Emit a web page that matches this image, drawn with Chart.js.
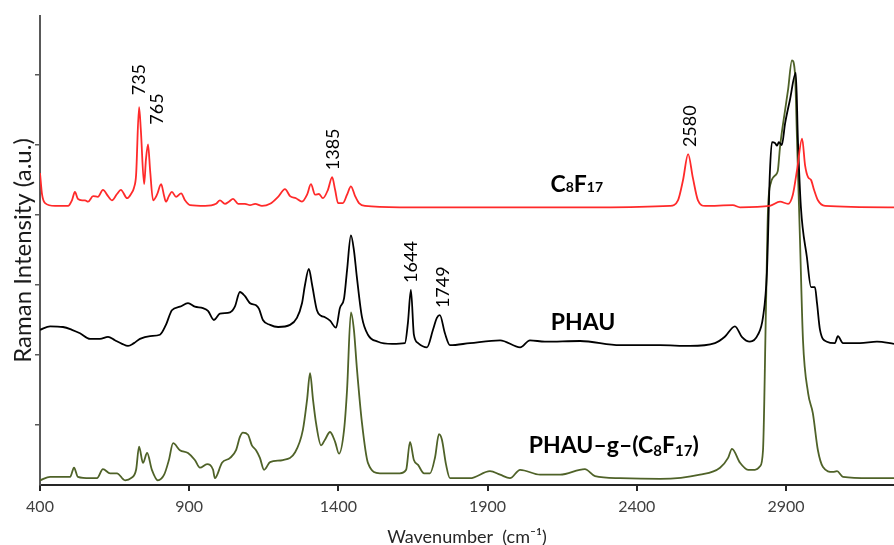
<!DOCTYPE html>
<html>
<head>
<meta charset="utf-8">
<script src="https://cdn.jsdelivr.net/npm/chart.js@4.4.1/dist/chart.umd.min.js"></script>
<style>
  body { margin: 0; background: #fff; }
  #wrap { width: 894px; height: 545px; }
</style>
</head>
<body>
<div id="wrap"><canvas id="raman" width="894" height="545"></canvas></div>
<script>
// axis ticks
const xTicks = [400, 900, 1400, 1900, 2400, 2900];
const yTicks = [1, 2, 3, 4, 5, 6];

// C8F17 spectrum (offset, a.u.)
const c8f17Wn = [400,407,417,450,494,507,517,527,541,551,561,578,594,611,628,641,658,671,692,705,715,722,732,738,749,755,762,769,779,792,806,816,822,832,842,856,873,886,903,953,990,1003,1020,1033,1047,1064,1087,1104,1121,1144,1171,1198,1221,1238,1258,1278,1295,1308,1322,1335,1348,1365,1379,1389,1399,1415,1429,1442,1456,1469,1489,1606,1942,2277,2511,2538,2555,2572,2588,2605,2629,2722,2746,2846,2880,2907,2923,2937,2954,2964,2974,2984,2994,3007,3031,3262];
const c8f17Int = [4.60,4.29,4.17,4.13,4.13,4.21,4.33,4.23,4.21,4.21,4.19,4.27,4.26,4.36,4.27,4.21,4.30,4.36,4.24,4.30,4.39,4.57,5.54,5.21,4.44,4.79,5.01,4.64,4.21,4.29,4.44,4.27,4.19,4.27,4.33,4.26,4.31,4.21,4.14,4.13,4.16,4.21,4.16,4.19,4.23,4.16,4.16,4.14,4.16,4.13,4.16,4.26,4.37,4.27,4.24,4.19,4.29,4.44,4.29,4.30,4.24,4.36,4.54,4.36,4.17,4.17,4.29,4.41,4.27,4.17,4.13,4.11,4.11,4.11,4.13,4.21,4.50,4.87,4.53,4.21,4.13,4.14,4.11,4.13,4.19,4.16,4.29,4.64,5.09,4.71,4.54,4.50,4.36,4.21,4.13,4.11];

// PHAU spectrum
const phauWn = [400,434,477,507,534,568,601,628,651,675,695,715,735,769,802,822,842,869,896,919,946,963,983,1003,1037,1053,1070,1087,1104,1124,1134,1147,1171,1198,1238,1261,1278,1288,1301,1312,1328,1342,1355,1372,1392,1405,1419,1429,1442,1452,1462,1479,1499,1533,1580,1623,1633,1643,1653,1667,1697,1717,1730,1740,1757,1774,1841,1942,2009,2042,2092,2210,2344,2478,2578,2662,2695,2729,2752,2779,2806,2823,2836,2846,2853,2863,2870,2876,2886,2897,2913,2933,2940,2950,2970,2984,2997,3004,3014,3037,3064,3074,3091,3148,3205,3262];
const phauInt = [2.36,2.41,2.40,2.36,2.31,2.23,2.23,2.26,2.21,2.16,2.13,2.17,2.23,2.27,2.29,2.43,2.64,2.69,2.74,2.69,2.67,2.63,2.50,2.59,2.61,2.69,2.90,2.84,2.74,2.71,2.66,2.50,2.43,2.40,2.43,2.53,2.74,3.00,3.23,3.00,2.64,2.56,2.54,2.49,2.39,2.67,2.81,3.21,3.71,3.50,3.11,2.54,2.29,2.19,2.16,2.17,2.46,2.93,2.29,2.17,2.11,2.36,2.53,2.57,2.31,2.14,2.17,2.21,2.11,2.21,2.19,2.20,2.14,2.14,2.13,2.17,2.26,2.41,2.26,2.19,2.29,2.54,3.17,4.60,5.04,5.03,4.99,5.04,5.00,5.31,5.64,6.03,5.07,4.11,3.40,2.97,2.97,2.74,2.36,2.19,2.17,2.27,2.17,2.17,2.19,2.16];

// PHAU-g-(C8F17) spectrum
const graftWn = [400,434,477,501,514,527,568,591,611,635,658,685,705,722,732,745,759,775,795,816,832,846,869,896,919,936,960,980,986,1010,1037,1057,1070,1080,1097,1110,1124,1137,1151,1171,1214,1255,1281,1295,1305,1315,1325,1342,1355,1372,1389,1402,1419,1429,1442,1452,1462,1479,1499,1539,1606,1627,1640,1653,1667,1687,1707,1724,1737,1747,1761,1774,1841,1908,1942,1975,2009,2076,2143,2226,2260,2344,2478,2612,2679,2706,2719,2746,2773,2796,2813,2823,2833,2840,2850,2856,2870,2873,2880,2897,2907,2920,2930,2937,2947,2957,2974,2990,3007,3024,3057,3071,3091,3181,3262];
const graftInt = [0.21,0.26,0.26,0.26,0.39,0.26,0.24,0.24,0.37,0.31,0.31,0.21,0.24,0.36,0.69,0.46,0.60,0.36,0.21,0.29,0.50,0.74,0.64,0.60,0.50,0.39,0.44,0.36,0.24,0.46,0.53,0.64,0.83,0.89,0.86,0.71,0.64,0.53,0.36,0.47,0.50,0.61,0.93,1.36,1.74,1.36,1.03,0.71,0.79,0.90,0.76,0.59,0.93,1.50,2.61,2.36,1.81,1.03,0.46,0.31,0.31,0.36,0.76,0.50,0.43,0.31,0.31,0.54,0.87,0.79,0.43,0.24,0.24,0.34,0.29,0.24,0.36,0.29,0.29,0.37,0.27,0.24,0.23,0.29,0.39,0.53,0.66,0.46,0.36,0.36,0.41,0.64,2.69,4.11,4.47,4.53,4.60,4.64,4.97,5.50,5.79,6.21,6.03,5.07,3.64,2.21,1.46,1.17,0.64,0.40,0.33,0.34,0.26,0.24,0.24];

// peak labels: text, wavenumber, intensity where the text starts
const peakText = ['735', '765', '1385', '1644', '1749', '2580'];
const peakWn = [732, 792, 1382, 1643, 1750, 2578];
const peakInt = [5.71, 5.29, 4.64, 3.03, 2.67, 4.97];

function toPoints(xs, ys) {
    return xs.map((x, i) => ({ x: x, y: ys[i] }));
}

const FONT = 'Lato, "Open Sans", sans-serif';

// draws text made of parts with different sizes, centred on cx
function drawParts(ctx, parts, cx, baseY) {
    let total = 0;
    parts.forEach(p => {
        ctx.font = 'bold ' + p.size + 'px ' + FONT;
        p.w = ctx.measureText(p.t).width;
        total += p.w;
    });
    let x = cx - total / 2;
    ctx.textAlign = 'left';
    ctx.textBaseline = 'alphabetic';
    parts.forEach(p => {
        ctx.font = 'bold ' + p.size + 'px ' + FONT;
        ctx.fillText(p.t, x, baseY + (p.dy || 0));
        x += p.w;
    });
}

const labelPlugin = {
    id: 'labels',
    afterDatasetsDraw(chart) {
        const ctx = chart.ctx;
        const xs = chart.scales.x;
        const ys = chart.scales.y;
        ctx.save();
        ctx.fillStyle = '#000';

        // rotated peak positions
        ctx.font = '18px ' + FONT;
        peakText.forEach((t, i) => {
            ctx.save();
            ctx.translate(xs.getPixelForValue(peakWn[i]), ys.getPixelForValue(peakInt[i]));
            ctx.rotate(-Math.PI / 2);
            ctx.textAlign = 'left';
            ctx.textBaseline = 'middle';
            ctx.fillText(t, 0, 0);
            ctx.restore();
        });

        // series names
        drawParts(ctx, [
            { t: 'C', size: 23 }, { t: '8', size: 14 },
            { t: 'F', size: 23 }, { t: '17', size: 14 }
        ], xs.getPixelForValue(2199), ys.getPixelForValue(4.33));

        drawParts(ctx, [{ t: 'PHAU', size: 23 }],
            xs.getPixelForValue(2220), ys.getPixelForValue(2.36));

        drawParts(ctx, [
            { t: 'PHAU\u2013g\u2013(C', size: 23 }, { t: '8', size: 15, dy: 3 },
            { t: 'F', size: 23 }, { t: '17', size: 15, dy: 3 }, { t: ')', size: 23 }
        ], xs.getPixelForValue(2323), ys.getPixelForValue(0.6));

        ctx.restore();
    }
};

new Chart(document.getElementById('raman'), {
    type: 'line',
    data: {
        datasets: [
            {
                label: 'C8F17',
                data: toPoints(c8f17Wn, c8f17Int),
                borderColor: '#FF2A2A',
                borderWidth: 1.8
            },
            {
                label: 'PHAU',
                data: toPoints(phauWn, phauInt),
                borderColor: '#000000',
                borderWidth: 1.8
            },
            {
                label: 'PHAU-g-(C8F17)',
                data: toPoints(graftWn, graftInt),
                borderColor: '#4F6228',
                borderWidth: 1.8
            }
        ]
    },
    options: {
        responsive: false,
        animation: false,
        cubicInterpolationMode: 'monotone',
        elements: { point: { radius: 0 } },
        layout: { padding: { top: 16, right: 0, left: 0, bottom: 0 } },
        plugins: {
            legend: { display: false },
            tooltip: { enabled: false }
        },
        scales: {
            x: {
                type: 'linear',
                min: 400,
                max: 3262,
                afterBuildTicks: (scale) => { scale.ticks = xTicks.map(v => ({ value: v })); },
                afterFit: (scale) => { scale.height = 60; },
                border: { display: true, color: '#262626', width: 2 },
                grid: { drawOnChartArea: false, drawTicks: true, tickLength: 6, color: '#262626', lineWidth: 2 },
                ticks: {
                    color: '#404040',
                    font: { family: FONT, size: 16 },
                    padding: 6,
                    maxRotation: 0,
                    callback: (v) => String(v)
                },
                title: {
                    display: true,
                    text: 'Wavenumber  (cm\u207B\u00B9)',
                    color: '#262626',
                    font: { family: FONT, size: 18 },
                    padding: { top: 0, bottom: -3 }
                }
            },
            y: {
                type: 'linear',
                min: 0.143,
                max: 6.843,
                afterBuildTicks: (scale) => { scale.ticks = yTicks.map(v => ({ value: v })); },
                afterFit: (scale) => { scale.width = 40; },
                border: { display: true, color: '#595959', width: 2 },
                grid: { drawOnChartArea: false, drawTicks: true, tickLength: 5, color: '#595959', lineWidth: 1.5 },
                ticks: { display: false },
                title: {
                    display: true,
                    text: 'Raman Intensity (a.u.)',
                    color: '#1a1a1a',
                    font: { family: FONT, size: 24 },
                    padding: { top: 9, bottom: 0 }
                }
            }
        }
    },
    plugins: [labelPlugin]
});
</script>
</body>
</html>
